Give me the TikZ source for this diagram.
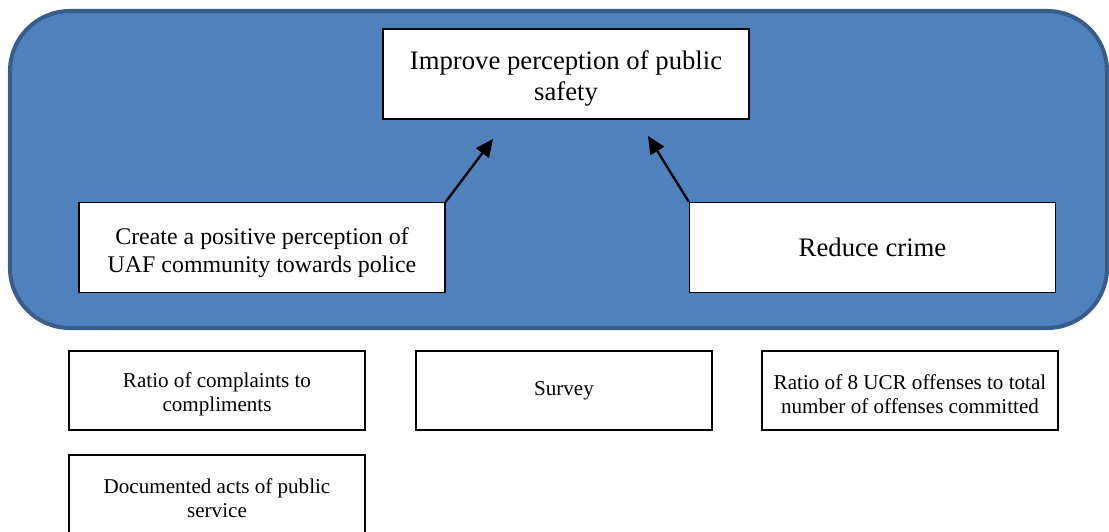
\documentclass[tikz,border=0pt]{standalone}
\usepackage{fontspec}
\setmainfont{Liberation Serif}
\usepackage{tikz}
\usetikzlibrary{
  arrows.meta,
  positioning
}
\definecolor{goalFill}{HTML}{4F81BD}
\definecolor{goalEdge}{HTML}{385D8A}

% taller first line, so two-line text sits a little lower in its box
\newcommand{\droptext}[1]{\rule{0pt}{#1}}

\tikzset{
  goalbox/.style={draw=black, line width=0.8pt, fill=white, align=center,
    minimum width=7.32cm, minimum height=1.8cm, inner sep=2pt},
  measurebox/.style={draw=black, line width=0.8pt, fill=white, align=center,
    minimum width=5.92cm, minimum height=1.58cm, inner sep=2pt, font=\fontsize{12}{13.6}\selectfont},
  link/.style={line width=1.3pt, -{Triangle[length=10pt, width=9pt]}}
}

\begin{document}
\begin{tikzpicture}
  \useasboundingbox (0,0) rectangle (22.18,-10.62);
  % outer panel
  \draw[line width=2.3pt, draw=goalEdge, fill=goalFill, rounded corners=1.2cm]
    (0.2,-0.22) rectangle (22.14,-6.56);

  % goals
  \node[goalbox, font=\fontsize{15.2}{18}\selectfont] (safety) at (11.32,-1.48)
    {\droptext{16pt}Improve perception of public\\safety};
  \node[goalbox, font=\fontsize{13.6}{16}\selectfont] (perception) at (5.24,-4.95)
    {\droptext{15pt}Create a positive perception of\\UAF community towards police};
  \node[goalbox, font=\fontsize{15.2}{18}\selectfont] (crime) at (17.45,-4.95) {Reduce crime};

  \coordinate (tipL) at (9.86,-2.78);
  \coordinate (tipR) at (12.96,-2.72);
  \draw[link] (perception.north east) -- (tipL);
  \draw[link] (crime.north west) -- (tipR);

  % measures
  \node[measurebox] (ratio) at (4.34,-7.81) {\droptext{13pt}Ratio of complaints to\\compliments};
  \node[measurebox] (survey) at (11.28,-7.81) {Survey};
  \node[measurebox] (ucr) at (18.2,-7.81) {\droptext{13pt}Ratio of 8 UCR offenses to total\\number of offenses committed};
  \node[measurebox] (service) at (4.34,-9.89) {\droptext{13pt}Documented acts of public\\service};
\end{tikzpicture}
\end{document}
